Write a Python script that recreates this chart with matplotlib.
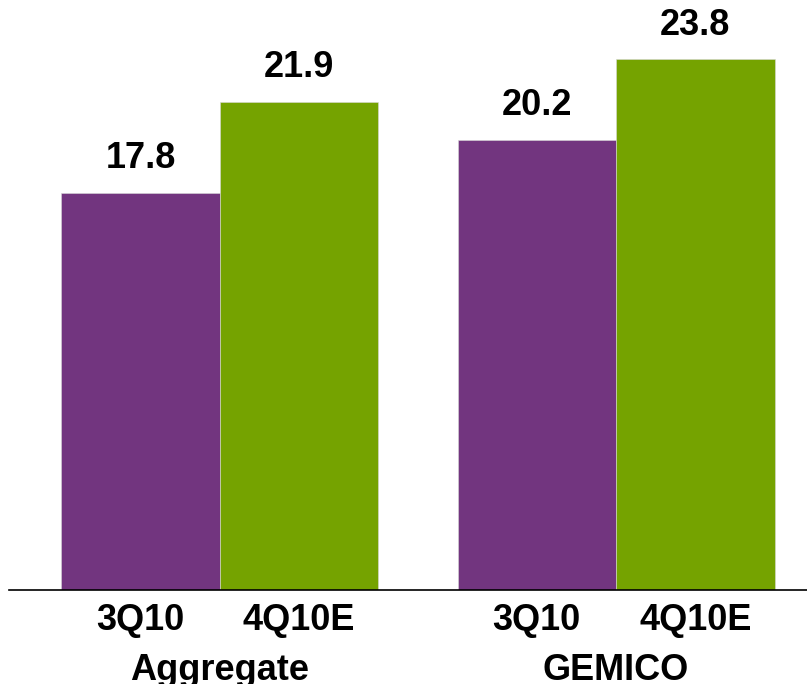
import matplotlib.pyplot as plt

plt.rcParams['font.family'] = ['Liberation Sans', 'DejaVu Sans']

groups = ['Aggregate', 'GEMICO']
periods = ['3Q10', '4Q10E']
values = [[17.8, 21.9], [20.2, 23.8]]
colors = ['#72357f', '#75a300']

fig = plt.figure(figsize=(8.07, 6.84), dpi=100)
ax = fig.add_axes([9 / 807, 94 / 684, 798 / 807, 590 / 684])

group_x = [0.0, 2.5]
pos, labels = [], []
for gx, vals in zip(group_x, values):
    for i, (v, c) in enumerate(zip(vals, colors)):
        x = gx + i
        ax.bar(x, v, width=1.0, color=c, edgecolor='#d8d8d8', linewidth=0.4)
        ax.text(x, v + 0.75, f'{v:.1f}', ha='center', va='bottom',
                fontsize=26, fontweight='bold')
        pos.append(x)
        labels.append(periods[i])

ax.set_xlim(-0.83, 4.205)
ax.set_ylim(0, 26.46)
ax.set_xticks(pos)
ax.set_xticklabels(labels, fontsize=26, fontweight='bold')
ax.tick_params(axis='x', length=0, pad=9)
ax.set_yticks([])
for side in ['top', 'right', 'left']:
    ax.spines[side].set_visible(False)
ax.spines['bottom'].set_linewidth(1.2)

for gx, name in zip(group_x, groups):
    ax.text(gx + 0.5, -0.152, name, transform=ax.get_xaxis_transform(),
            ha='center', va='baseline', fontsize=26, fontweight='bold')

fig.savefig('out.png', dpi=100)
